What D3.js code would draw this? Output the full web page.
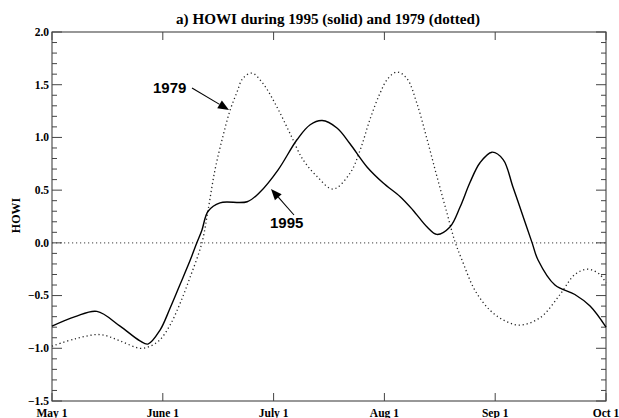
<!DOCTYPE html>
<html><head><meta charset="utf-8">
<script src="https://cdn.jsdelivr.net/npm/d3@7"></script>
<style>body{margin:0;background:#fff}svg{display:block}</style>
</head><body>
<svg id="c" width="619" height="418"></svg>
<script>
// ---- data ----
const monthLabels = ["May 1", "June 1", "July 1", "Aug 1", "Sep 1", "Oct 1"];
const yTickValues = [-1.5, -1.0, -0.5, 0.0, 0.5, 1.0, 1.5, 2.0];
// days since May 1
const days1995 = [0, 6.4, 12.4, 18.8, 24.3, 26.5, 29.8, 32.6, 35.3, 38.1, 40.0, 41.4, 43.1, 46.4, 53.9, 57.4, 62.4, 67.7, 71.3, 74.6, 78.7, 82.3, 87.0, 91.4, 96.1, 99.7, 103.6, 106.3, 109.9, 112.7, 115.4, 118.2, 121.5, 124.6, 127.3, 130.1, 132.6, 134.2, 138.9, 144.4, 148.6, 153];
const howi1995 = [-0.79, -0.70, -0.65, -0.79, -0.93, -0.96, -0.83, -0.62, -0.40, -0.17, 0.00, 0.12, 0.30, 0.38, 0.39, 0.48, 0.69, 0.98, 1.12, 1.16, 1.09, 0.94, 0.72, 0.57, 0.44, 0.31, 0.15, 0.08, 0.15, 0.34, 0.57, 0.76, 0.86, 0.79, 0.53, 0.25, 0.00, -0.16, -0.40, -0.49, -0.60, -0.80];
const days1979 = [0, 6.4, 13.3, 18.8, 24.3, 27.1, 29.8, 32.6, 35.3, 38.1, 41.4, 43.1, 45.0, 47.2, 49.2, 51.1, 52.7, 55.2, 58.3, 62.1, 65.7, 69.3, 73.2, 77.6, 82.3, 85.1, 87.8, 90.6, 92.8, 95.3, 98.0, 100.8, 103.6, 106.3, 109.1, 111.3, 113.2, 116.8, 121.0, 125.1, 129.2, 134.8, 140.3, 144.4, 148.0, 151.3, 153];
const howi1979 = [-0.98, -0.91, -0.87, -0.93, -1.00, -0.98, -0.92, -0.78, -0.58, -0.33, 0.00, 0.31, 0.69, 1.01, 1.26, 1.43, 1.56, 1.61, 1.51, 1.29, 1.04, 0.79, 0.63, 0.51, 0.66, 0.88, 1.17, 1.42, 1.56, 1.62, 1.56, 1.32, 0.98, 0.63, 0.28, 0.01, -0.16, -0.45, -0.64, -0.74, -0.78, -0.71, -0.49, -0.30, -0.25, -0.30, -0.38];

const titleText = "a) HOWI during 1995 (solid) and 1979 (dotted)";
const yTitle = "HOWI";

// ---- layout ----
const svg = d3.select("#c");
const L = 52, R = 606, T = 32, B = 401;
const nDays = 153;
const x = d3.scaleLinear().domain([0, nDays]).range([L, R]);
const y = d3.scaleLinear().domain([-1.5, 2.0]).range([B, T]);
const xTickDays = monthLabels.map((d, i) => i * nDays / (monthLabels.length - 1));
const serif = "'Liberation Serif','Times New Roman',serif";
const sans = "'Liberation Sans',Arial,Helvetica,sans-serif";
const axisColor = "#444";

// zero line (dotted)
svg.append("line")
  .attr("x1", x(0)).attr("x2", x(nDays)).attr("y1", y(0)).attr("y2", y(0))
  .attr("stroke", "#666").attr("stroke-width", 1.2).attr("stroke-dasharray", "1.2,2.8");

// frame
svg.append("rect").attr("x", L).attr("y", T).attr("width", R - L).attr("height", B - T)
  .attr("fill", "none").attr("stroke", axisColor).attr("stroke-width", 1.1);

// y ticks (major and minor, both sides)
const minor = d3.range(-15, 21).map(v => v / 10);
const tg = svg.append("g").attr("stroke", axisColor).attr("stroke-width", 1);
minor.forEach(v => {
  const isMajor = Math.abs(v * 2 - Math.round(v * 2)) < 1e-6;
  const len = isMajor ? 10 : 5;
  tg.append("line").attr("x1", L).attr("x2", L + len).attr("y1", y(v)).attr("y2", y(v));
  tg.append("line").attr("x1", R).attr("x2", R - len).attr("y1", y(v)).attr("y2", y(v));
});
xTickDays.forEach(d => {
  tg.append("line").attr("x1", x(d)).attr("x2", x(d)).attr("y1", B).attr("y2", B - 8);
  tg.append("line").attr("x1", x(d)).attr("x2", x(d)).attr("y1", T).attr("y2", T + 8);
});

// y tick labels
svg.append("g").selectAll("text").data(yTickValues).join("text")
  .attr("x", L - 3).attr("y", d => y(d)).attr("dy", "0.33em")
  .attr("text-anchor", "end").attr("font-family", serif).attr("font-weight", "bold")
  .attr("font-size", 11.5).text(d => d3.format(".1f")(d));

// x tick labels
svg.append("g").selectAll("text").data(monthLabels).join("text")
  .attr("x", (d, i) => x(xTickDays[i])).attr("y", 417)
  .attr("text-anchor", "middle").attr("font-family", serif).attr("font-weight", "bold")
  .attr("font-size", 11.5).text(d => d);

// y axis title
svg.append("text").attr("transform", "translate(20,215.5) rotate(-90)")
  .attr("text-anchor", "middle").attr("font-family", serif).attr("font-weight", "bold")
  .attr("font-size", 12).text(yTitle);

// title
svg.append("text").attr("x", 328).attr("y", 24).attr("text-anchor", "middle")
  .attr("font-family", serif).attr("font-weight", "bold").attr("font-size", 14)
  .attr("textLength", 304).attr("lengthAdjust", "spacingAndGlyphs")
  .text(titleText);

// lines
const line = d3.line().x(d => x(d[0])).y(d => y(d[1])).curve(d3.curveCatmullRom.alpha(0.5));
svg.append("path").datum(days1979.map((d, i) => [d, howi1979[i]]))
  .attr("d", line).attr("fill", "none").attr("stroke", "#222")
  .attr("stroke-width", 1.3).attr("stroke-dasharray", "1.2,2.8");
svg.append("path").datum(days1995.map((d, i) => [d, howi1995[i]]))
  .attr("d", line).attr("fill", "none").attr("stroke", "#000").attr("stroke-width", 1.4);

// annotations
function arrow(x1, y1, x2, y2) {
  const ang = Math.atan2(y2 - y1, x2 - x1);
  const hl = 11, hw = 4.5;
  const bx = x2 - hl * Math.cos(ang), by = y2 - hl * Math.sin(ang);
  svg.append("line").attr("x1", x1).attr("y1", y1).attr("x2", bx).attr("y2", by)
    .attr("stroke", "#000").attr("stroke-width", 1.1);
  const px = -Math.sin(ang) * hw, py = Math.cos(ang) * hw;
  svg.append("path").attr("d", `M${x2},${y2}L${bx + px},${by + py}L${bx - px},${by - py}Z`)
    .attr("fill", "#000");
}
svg.append("text").attr("x", 153).attr("y", 93).attr("font-family", sans)
  .attr("font-weight", "bold").attr("font-size", 15).text("1979");
arrow(192, 88, 229, 110);
svg.append("text").attr("x", 270).attr("y", 228).attr("font-family", sans)
  .attr("font-weight", "bold").attr("font-size", 15).text("1995");
arrow(294, 215, 271, 189);
</script>
</body></html>
